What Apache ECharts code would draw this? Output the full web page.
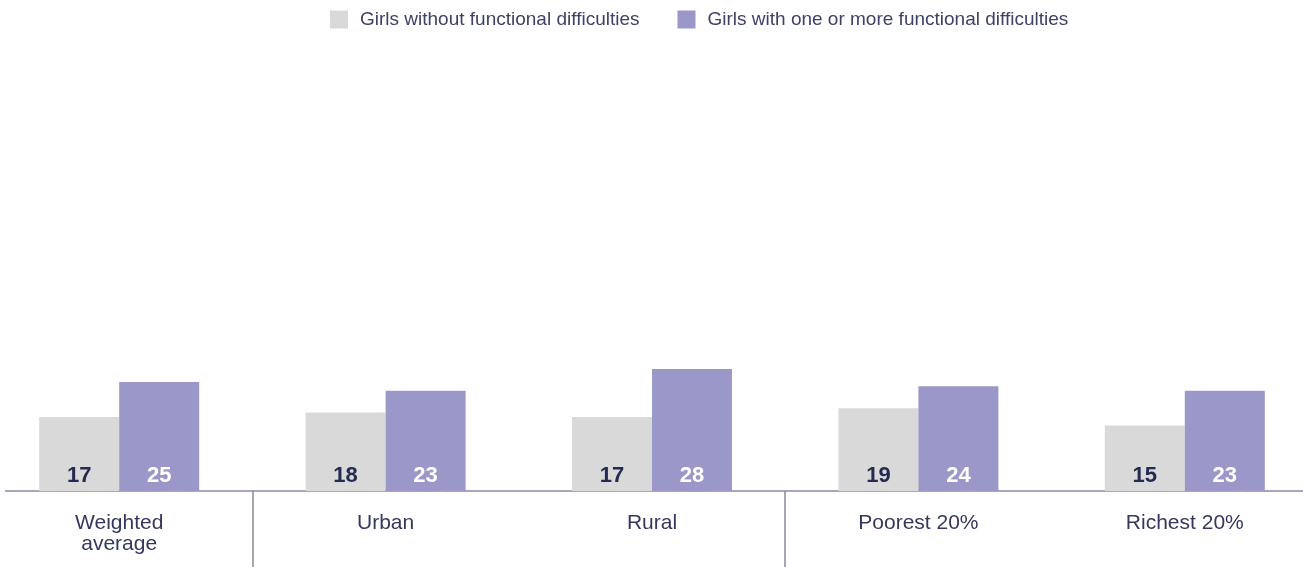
<!DOCTYPE html>
<html><head><meta charset="utf-8">
<script src="https://cdn.jsdelivr.net/npm/echarts@6/dist/echarts.min.js"></script>
<style>html,body{margin:0;padding:0;background:#fff;overflow:hidden}#c{width:1332px;height:567px;margin-left:-14px}</style>
</head><body><div id="c"></div>
<script>
const categories = ['Weighted\naverage', 'Urban', 'Rural', 'Poorest 20%', 'Richest 20%'];
const seriesNames = ['Girls without functional difficulties', 'Girls with one or more functional difficulties'];
const withoutDiff = [17, 18, 17, 19, 15];
const withDiff = [25, 23, 28, 24, 23];
const separatorAfter = [0, 2];

const textColor = '#34385e';
const font = '"Liberation Sans", Arial, Helvetica, sans-serif';
const chart = echarts.init(document.getElementById('c'));
chart.setOption({
  animation: false,
  legend: {
    top: 5, left: 339, itemWidth: 18, itemHeight: 18, itemGap: 38,
    icon: 'rect',
    textStyle: { color: '#3e4266', fontSize: 19, fontFamily: font, padding: [0, 0, 0, 7] },
    data: seriesNames
  },
  grid: { left: 0, right: 0, top: 55, bottom: 76, containLabel: false },
  xAxis: {
    type: 'category', data: categories,
    axisLine: { lineStyle: { color: '#8a89a3', width: 1.5 } },
    axisTick: {
      show: true, length: 76, inside: false,
      lineStyle: { color: '#8a89a3', width: 1.5 },
      interval: function (index) { return separatorAfter.includes(index - 1); }
    },
    axisLabel: { color: textColor, fontSize: 21, fontFamily: font, lineHeight: 21, margin: 22, interval: 0 }
  },
  yAxis: { type: 'value', min: 0, max: 100, show: false, splitLine: { show: false } },
  graphic: [
    { type: 'rect', left: 0, top: 488, shape: { width: 19, height: 6 }, style: { fill: '#ffffff' }, z: 100 }
  ],
  series: [
    {
      name: seriesNames[0], type: 'bar', data: withoutDiff, barWidth: 80, barGap: '0%',
      itemStyle: { color: '#d9d9d9' },
      label: { show: true, position: 'insideBottom', distance: 4, color: '#262a52', fontSize: 22, fontWeight: 'bold', fontFamily: font }
    },
    {
      name: seriesNames[1], type: 'bar', data: withDiff, barWidth: 80, barGap: '0%',
      itemStyle: { color: '#9b97c9' },
      label: { show: true, position: 'insideBottom', distance: 4, color: '#ffffff', fontSize: 22, fontWeight: 'bold', fontFamily: font }
    }
  ]
});
</script></body></html>
